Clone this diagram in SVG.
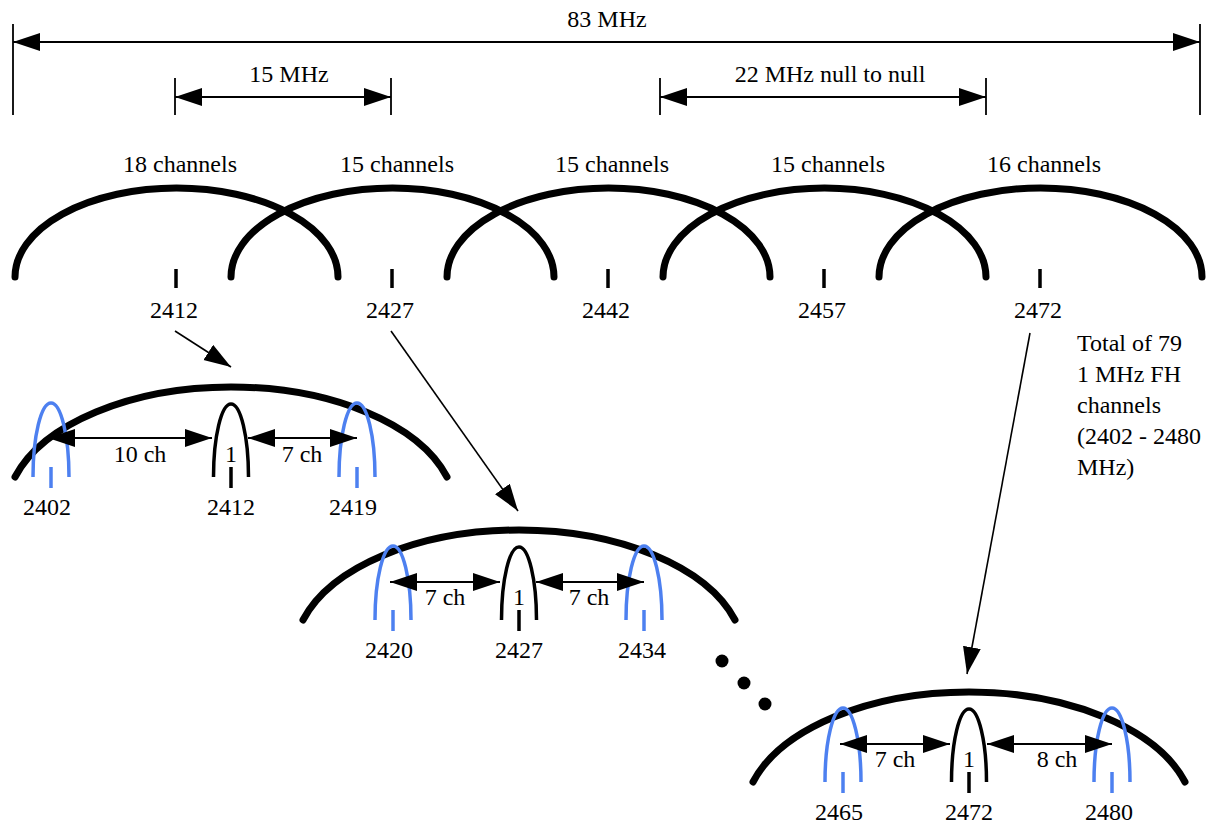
<svg xmlns="http://www.w3.org/2000/svg" width="1210" height="828" viewBox="0 0 1210 828">
<style>
text{font-family:"Liberation Serif","Times New Roman",serif;font-size:24px;fill:#000}
.c{text-anchor:middle}
.big{fill:none;stroke:#000;stroke-width:7;stroke-linecap:round}
.arch{fill:none;stroke:#000;stroke-width:3.5}
.blue{fill:none;stroke:#4d80f0;stroke-width:3.5}
.tk{stroke:#000;stroke-width:3.5}
.tkb{stroke:#4d80f0;stroke-width:3.5}
.dim{stroke:#000;stroke-width:1.8}
.dl{stroke:#000;stroke-width:2;fill:none}
.ar{stroke:#000;stroke-width:2;fill:none;marker-start:url(#ah);marker-end:url(#ah)}
.ar1{stroke:#000;stroke-width:1.6;fill:none;marker-end:url(#ah)}
</style>
<defs>
<marker id="ah" markerUnits="userSpaceOnUse" markerWidth="28" markerHeight="20" refX="27" refY="9" orient="auto-start-reverse" viewBox="0 0 28 20">
<path d="M0,0 L27,9 L0,18 z" fill="#000"/>
</marker>
</defs>

<g id="dimensions">
<line class="dim" x1="13" y1="24" x2="13" y2="115"/>
<line class="dim" x1="1200" y1="24" x2="1200" y2="115"/>
<line class="dim" x1="175" y1="78" x2="175" y2="115"/>
<line class="dim" x1="391" y1="78" x2="391" y2="115"/>
<line class="dim" x1="660" y1="78" x2="660" y2="115"/>
<line class="dim" x1="986" y1="78" x2="986" y2="115"/>
<text class="c" x="607" y="27">83 MHz</text>
<text class="c" x="289" y="82">15 MHz</text>
<text class="c" x="830" y="82">22 MHz null to null</text>
</g>

<g id="channels">
<g id="ch1">
<path class="big" d="M15,277 A161.5,89 0 0 1 338,277"/>
<line class="tk" x1="176" y1="269" x2="176" y2="288"/>
<text class="c" x="180" y="172">18 channels</text>
<text class="c" x="174" y="318">2412</text>
</g>
<g id="ch2">
<path class="big" d="M231,277 A161.5,89 0 0 1 554,277"/>
<line class="tk" x1="392" y1="269" x2="392" y2="288"/>
<text class="c" x="397" y="172">15 channels</text>
<text class="c" x="390" y="318">2427</text>
</g>
<g id="ch3">
<path class="big" d="M447,277 A161.5,89 0 0 1 770,277"/>
<line class="tk" x1="608" y1="269" x2="608" y2="288"/>
<text class="c" x="612" y="172">15 channels</text>
<text class="c" x="606" y="318">2442</text>
</g>
<g id="ch4">
<path class="big" d="M663,277 A161.5,89 0 0 1 986,277"/>
<line class="tk" x1="824" y1="269" x2="824" y2="288"/>
<text class="c" x="828" y="172">15 channels</text>
<text class="c" x="822" y="318">2457</text>
</g>
<g id="ch5">
<path class="big" d="M879,277 A161.5,89 0 0 1 1202,277"/>
<line class="tk" x1="1040" y1="269" x2="1040" y2="288"/>
<text class="c" x="1044" y="172">16 channels</text>
<text class="c" x="1038" y="318">2472</text>
</g>
</g>

<g id="note">
<text x="1077" y="351">Total of 79</text>
<text x="1077" y="382">1 MHz FH</text>
<text x="1077" y="413">channels</text>
<text x="1077" y="444">(2402 - 2480</text>
<text x="1077" y="475">MHz)</text>
</g>

<g id="group2412">
<path class="big" d="M15,477 A225,125 0 0 1 447,477"/>
<path class="blue" d="M33,477 A18,74 0 0 1 69,477"/>
<line class="tkb" x1="51" y1="467" x2="51" y2="488"/>
<path class="arch" d="M213.5,477 A17.5,73 0 0 1 248.5,477"/>
<line class="tk" x1="231" y1="467" x2="231" y2="488"/>
<path class="blue" d="M339,477 A18,74 0 0 1 375,477"/>
<line class="tkb" x1="357" y1="467" x2="357" y2="488"/>
<text class="c" x="231" y="462">1</text>
<text class="c" x="140" y="462">10 ch</text>
<text class="c" x="302" y="462">7 ch</text>
<text class="c" x="47" y="515">2402</text>
<text class="c" x="231" y="515">2412</text>
<text class="c" x="353" y="515">2419</text>
</g>

<g id="group2427">
<path class="big" d="M303,620 A225,125 0 0 1 735,620"/>
<path class="blue" d="M375,620 A18,74 0 0 1 411,620"/>
<line class="tkb" x1="393" y1="610" x2="393" y2="631"/>
<path class="arch" d="M501.5,620 A17.5,73 0 0 1 536.5,620"/>
<line class="tk" x1="519" y1="610" x2="519" y2="631"/>
<path class="blue" d="M626,620 A18,74 0 0 1 662,620"/>
<line class="tkb" x1="644" y1="610" x2="644" y2="631"/>
<text class="c" x="519" y="605">1</text>
<text class="c" x="445" y="605">7 ch</text>
<text class="c" x="589" y="605">7 ch</text>
<text class="c" x="389" y="658">2420</text>
<text class="c" x="519" y="658">2427</text>
<text class="c" x="642" y="658">2434</text>
</g>

<g id="ellipsis">
<circle cx="722" cy="661" r="6.5"/>
<circle cx="744" cy="683" r="6.5"/>
<circle cx="765" cy="704" r="6.5"/>
</g>

<g id="group2472">
<path class="big" d="M753,782 A225,125 0 0 1 1185,782"/>
<path class="blue" d="M825,782 A18,74 0 0 1 861,782"/>
<line class="tkb" x1="843" y1="772" x2="843" y2="793"/>
<path class="arch" d="M951.5,782 A17.5,73 0 0 1 986.5,782"/>
<line class="tk" x1="969" y1="772" x2="969" y2="793"/>
<path class="blue" d="M1094,782 A18,74 0 0 1 1130,782"/>
<line class="tkb" x1="1112" y1="772" x2="1112" y2="793"/>
<text class="c" x="969" y="767">1</text>
<text class="c" x="895" y="767">7 ch</text>
<text class="c" x="1057" y="767">8 ch</text>
<text class="c" x="839" y="820">2465</text>
<text class="c" x="969" y="820">2472</text>
<text class="c" x="1109" y="820">2480</text>
</g>

<g id="connectors">
<line class="ar" x1="13" y1="42" x2="1200" y2="42"/>
<line class="ar" x1="175" y1="97" x2="391" y2="97"/>
<line class="ar" x1="660" y1="97" x2="986" y2="97"/>
<line class="ar1" x1="175" y1="331" x2="231" y2="367"/>
<line class="ar1" x1="391" y1="331" x2="518" y2="511"/>
<line class="ar1" x1="1030" y1="333" x2="967" y2="674"/>
<line class="ar" x1="48" y1="438" x2="212" y2="438"/>
<line class="ar" x1="248" y1="438" x2="357" y2="438"/>
<line class="ar" x1="390" y1="582" x2="500" y2="582"/>
<line class="ar" x1="536" y1="582" x2="644" y2="582"/>
<line class="ar" x1="840" y1="744" x2="950" y2="744"/>
<line class="ar" x1="987" y1="744" x2="1112" y2="744"/>
</g>
</svg>
